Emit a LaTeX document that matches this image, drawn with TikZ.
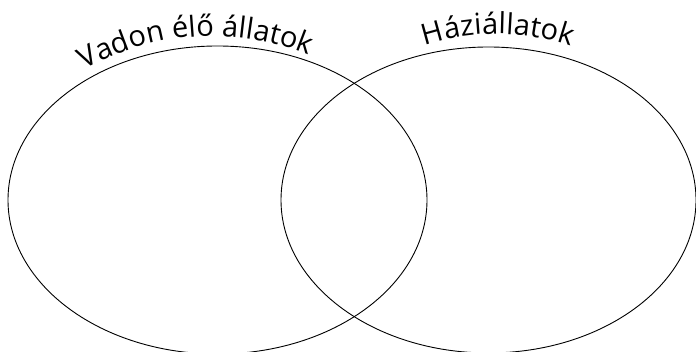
\documentclass[tikz,border=0pt]{standalone}
\usepackage{fontspec}
\setmainfont{Open Sans}
\usetikzlibrary{shapes.geometric,decorations.text,calc}
\tikzset{
  venn/.style={draw=black, line width=0.9pt, ellipse, inner sep=0pt, outer sep=0pt},
  curvedlabel/.style={decorate, decoration={text along path, text align=center, text format delimiters={|}{|}}}
}
\begin{document}
\begin{tikzpicture}[x=1pt,y=1pt]
\useasboundingbox (0,0) rectangle (696,352);
\clip (0,0) rectangle (696,352);
\node[venn, minimum width=419pt, minimum height=308pt] (wild) at (217.5,152) {};
\node[venn, minimum width=415pt, minimum height=306pt] (home) at (488.5,152) {};
\coordinate (lc) at (212,62);
\coordinate (ls) at ($(lc)+(130:254)$);
\coordinate (rc) at (496,89);
\coordinate (rs) at ($(rc)+(125.5:229)$);
\path[curvedlabel, decoration={text={|\fontsize{29}{34}\selectfont|Vadon élő állatok}}] (ls) arc[start angle=130, end angle=57.6, radius=254];
\path[curvedlabel, decoration={text={|\fontsize{29}{34}\selectfont|Háziállatok}}] (rs) arc[start angle=125.5, end angle=53.5, radius=229];
\end{tikzpicture}
\end{document}
